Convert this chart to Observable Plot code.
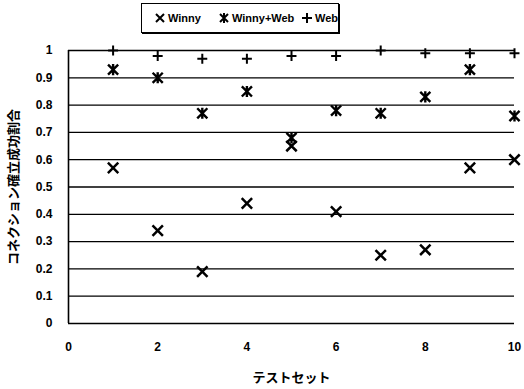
<!DOCTYPE html>
<html><head><meta charset="utf-8">
<script src="https://cdn.jsdelivr.net/npm/d3@7"></script>
<script src="https://cdn.jsdelivr.net/npm/@observablehq/plot@0.6"></script>
<style>
body{margin:0;background:#fff;}
#wrap{position:relative;width:524px;height:389px;}
#legend{position:absolute;left:141px;top:3px;width:198px;height:30px;box-sizing:border-box;border:1.5px solid #000;box-shadow:1px 1px 0 #000;background:#fff;font:bold 11px "Liberation Sans",Arial,sans-serif;color:#000;}
#legend .item{position:absolute;top:0;height:27px;display:flex;align-items:center;white-space:nowrap;}
#legend svg{margin-right:3px;}
</style></head>
<body><div id="wrap"><div id="legend"></div></div>
<script>
const testSets = [1, 2, 3, 4, 5, 6, 7, 8, 9, 10];
const winny    = [0.57, 0.34, 0.19, 0.44, 0.65, 0.41, 0.25, 0.27, 0.57, 0.60];
const winnyWeb = [0.93, 0.90, 0.77, 0.85, 0.68, 0.78, 0.77, 0.83, 0.93, 0.76];
const web      = [1.00, 0.98, 0.97, 0.97, 0.98, 0.98, 1.00, 0.99, 0.99, 0.99];
const seriesNames = ["Winny", "Winny+Web", "Web"];
const xTicks = [0, 2, 4, 6, 8, 10];
const yTicks = [0, 0.1, 0.2, 0.3, 0.4, 0.5, 0.6, 0.7, 0.8, 0.9, 1];
const xTitle = "テストセット";
const yTitle = "コネクション確立成功割合";

const starX = {
  draw(ctx, size) {
    const r = Math.sqrt(size / Math.PI) * 1.1;
    ctx.moveTo(-r, -r); ctx.lineTo(r, r);
    ctx.moveTo(-r, r); ctx.lineTo(r, -r);
    ctx.moveTo(0, -r * 1.1); ctx.lineTo(0, r * 1.1);
  }
};

const rows = (vals, name) => testSets.map((t, i) => ({t, v: vals[i], s: name}));
const dWinny = rows(winny, seriesNames[0]);
const dBoth = rows(winnyWeb, seriesNames[1]);
const dWeb = rows(web, seriesNames[2]);

const numFont = '"Liberation Sans", Arial, sans-serif';
const jpFont = '"Noto Sans CJK JP", sans-serif';

const chart = Plot.plot({
  width: 524,
  height: 389,
  marginLeft: 68,
  marginRight: 10,
  marginTop: 50,
  marginBottom: 66,
  style: {fontFamily: numFont, fontWeight: "bold", color: "#000", background: "#fff"},
  x: {domain: [0, 10]},
  y: {domain: [0, 1]},
  marks: [
    Plot.ruleY(yTicks, {stroke: "#000", strokeWidth: 1.3}),
    Plot.ruleX([0], {y1: 0, y2: 1, stroke: "#000", strokeWidth: 1.6}),
    Plot.axisX(xTicks, {tickSize: 0, tickPadding: 19, fontSize: 12, fontWeight: "bold", label: null}),
    Plot.axisY(yTicks, {tickSize: 0, tickPadding: 16, fontSize: 12, fontWeight: "bold", label: null, tickFormat: d3.format("~g")}),
    Plot.text([xTitle], {text: d => d, frameAnchor: "bottom", textAnchor: "middle", dy: 58, fontSize: 13, fontWeight: "bold", fontFamily: jpFont}),
    Plot.text([yTitle], {text: d => d, frameAnchor: "left", textAnchor: "middle", dx: -55, rotate: -90, fontSize: 13, fontWeight: "bold", fontFamily: jpFont}),
    Plot.dot(dWeb, {x: "t", y: "v", symbol: "plus", r: 3.3, stroke: "#000", strokeWidth: 2, fill: "none"}),
    Plot.dot(dBoth, {x: "t", y: "v", symbol: starX, r: 4.6, stroke: "#000", strokeWidth: 2.4, fill: "none"}),
    Plot.dot(dWinny, {x: "t", y: "v", symbol: "times", r: 4.8, stroke: "#000", strokeWidth: 2.5, fill: "none"})
  ]
});
document.getElementById("wrap").prepend(chart);

// legend
const legend = document.getElementById("legend");
const legendSym = {
  "Winny": '<path d="M1,1L9,9M1,9L9,1"/>',
  "Winny+Web": '<path d="M1,1L9,9M1,9L9,1M5,0L5,10"/>',
  "Web": '<path d="M0,5L10,5M5,0L5,10"/>'
};
const legendLeft = [13, 77, 160];
seriesNames.forEach((name, i) => {
  const item = document.createElement("div");
  item.className = "item";
  item.style.left = legendLeft[i] + "px";
  item.innerHTML = `<svg width="10" height="10" viewBox="0 0 10 10" fill="none" stroke="#000" stroke-width="2">${legendSym[name]}</svg><span>${name}</span>`;
  legend.appendChild(item);
});
</script>
</body></html>
